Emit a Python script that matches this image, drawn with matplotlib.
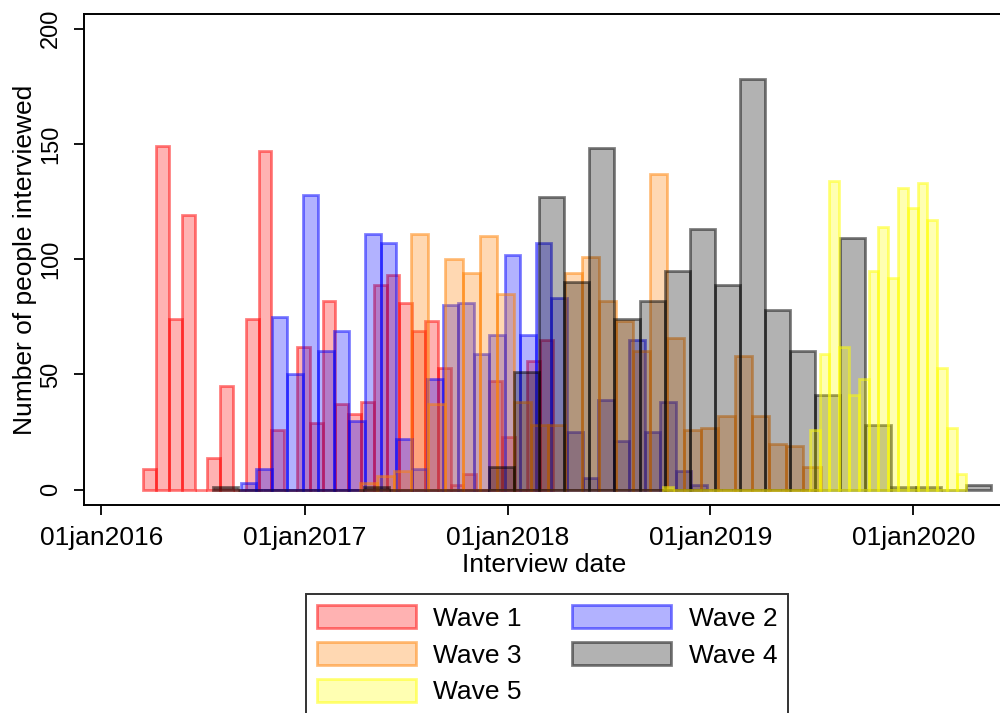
import numpy as np
import matplotlib.pyplot as plt
import matplotlib.dates as mdates
from matplotlib.ticker import FuncFormatter
from matplotlib.colors import to_rgba

plt.rcParams['font.family'] = ['Liberation Sans', 'DejaVu Sans']

# interview counts per histogram bin, each wave has its own bin start and bin width (days)
wave1_start = "2016-03-17"
wave1_width = 23.03
wave1_counts = [9, 149, 74, 119, 0, 14, 45, 0, 74, 147, 26, 0, 62, 29, 82, 37,
                33, 38, 89, 93, 81, 69, 73, 53, 2, 7, 0, 47, 23, 0, 56, 65]

wave2_start = "2016-09-08"
wave2_width = 27.95
wave2_counts = [3, 9, 75, 50, 128, 60, 69, 30, 111, 107, 22, 9, 48, 80, 81,
                59, 67, 102, 67, 107, 83, 25, 5, 39, 21, 65, 25, 38, 8, 2]

wave3_start = "2017-04-11"
wave3_width = 30.67
wave3_counts = [3, 6, 8, 111, 37, 100, 94, 110, 85, 38, 28, 28, 94, 101, 82,
                73, 60, 137, 66, 26, 27, 32, 58, 32, 20, 19, 10]

wave4_start = "2016-07-20"
wave4_width = 45.15
wave4_counts = [1, 0, 0, 0, 0, 0, 1, 0, 0, 0, 0, 10, 51, 127, 90, 148, 74, 82,
                95, 113, 89, 178, 78, 60, 41, 109, 28, 1, 1, 0, 2]

wave5_start = "2018-10-08"
wave5_width = 17.6
wave5_counts = [1, 0, 0, 0, 0, 0, 0, 0, 0, 0, 0, 0, 0, 0, 0, 26, 59, 134, 62,
                41, 48, 95, 114, 92, 131, 122, 133, 117, 53, 27, 7]

labels = ["Wave 1", "Wave 2", "Wave 3", "Wave 4", "Wave 5"]
base_colors = ["red", "blue", (1.0, 0.5, 0.0), "black", "yellow"]

waves = [(wave1_start, wave1_width, wave1_counts),
         (wave2_start, wave2_width, wave2_counts),
         (wave3_start, wave3_width, wave3_counts),
         (wave4_start, wave4_width, wave4_counts),
         (wave5_start, wave5_width, wave5_counts)]

fig = plt.figure(figsize=(10, 7.13), dpi=100)
ax = fig.add_axes([0.084, 0.2917, 0.921, 0.6887])

handles = []
for (start, width, counts), lab, col in zip(waves, labels, base_colors):
    x0 = mdates.date2num(np.datetime64(start))
    left = x0 + width * np.arange(len(counts))
    b = ax.bar(left, counts, width=width, align='edge',
               facecolor=to_rgba(col, 0.3), edgecolor=to_rgba(col, 0.5),
               linewidth=2.0, label=lab)
    handles.append(b)

ax.set_xlim(mdates.date2num(np.datetime64("2015-12-01")),
            mdates.date2num(np.datetime64("2020-06-14")))
ax.set_ylim(-6.6, 206.3)

ax.xaxis.set_major_locator(mdates.YearLocator())
ax.xaxis.set_major_formatter(
    FuncFormatter(lambda v, pos: mdates.num2date(v).strftime("%d%b%Y").lower()))
ax.set_yticks([0, 50, 100, 150, 200])

for s in ax.spines.values():
    s.set_linewidth(1.4)
ax.spines['right'].set_visible(False)

ax.tick_params(axis='both', direction='out', length=7, width=1.3)
ax.tick_params(axis='x', labelsize=19, pad=8)
ax.tick_params(axis='y', labelsize=17, pad=9)
for t in ax.get_yticklabels():
    t.set_rotation(90)
    t.set_verticalalignment('center')

ax.set_xlabel("Interview date", fontsize=19)
ax.xaxis.set_label_coords(0.5, -0.097)
ax.set_ylabel("Number of people interviewed", fontsize=19)
ax.yaxis.set_label_coords(-0.051, 0.5)

order = [0, 2, 4, 1, 3]
leg = fig.legend([handles[i] for i in order], [labels[i] for i in order],
                 loc='upper left', bbox_to_anchor=(0.3057, 1 - 594 / 713),
                 ncol=2, fontsize=19, frameon=True, fancybox=False,
                 handlelength=3.75, handleheight=0.98, handletextpad=0.67,
                 columnspacing=1.9, labelspacing=0.42, borderpad=0.42,
                 borderaxespad=0)
leg.get_frame().set_edgecolor('black')
leg.get_frame().set_linewidth(1.4)

fig.savefig("out.png", dpi=100)
